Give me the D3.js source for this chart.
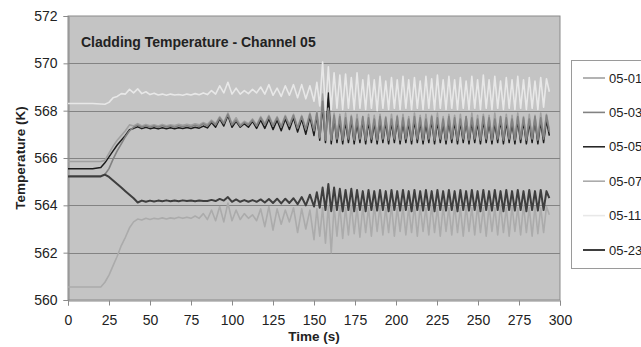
<!DOCTYPE html>
<html><head><meta charset="utf-8">
<script src="https://cdn.jsdelivr.net/npm/d3@7"></script>
<style>
html,body{margin:0;padding:0;background:#fff;}
svg{display:block;font-family:"Liberation Sans",Arial,sans-serif;}
</style></head>
<body><svg id="chart" width="641" height="347"></svg>
<script>
const chartTitle = "Cladding Temperature - Channel 05";
const xTitle = "Time (s)";
const yTitle = "Temperature (K)";
const xTicks = [0,25,50,75,100,125,150,175,200,225,250,275,300];
const yTicks = [560,562,564,566,568,570,572];
const seriesNames = ["05-01","05-03","05-05","05-07","05-11","05-23"];

const times = [
0,5,10,15,
20,22.5,25,27.5,30,32.5,35,37.5,40,42.5,
45,47.5,50,52.5,55,57.5,60,62.5,65,67.5,
70,72.5,75,77.5,80,82.5,85,87.5,90,92.5,
95,97.5,100,102.5,105,107.5,110,112.5,115,117.5,
120,122.5,125,127.5,130,132.5,135,137.5,140,142.5,
145,147.5,150,
151.75,153.5,155.25,157,158.75,160.5,162.25,164,165.75,167.5,
169.25,171,172.75,174.5,176.25,178,179.75,181.5,183.25,185,
186.75,188.5,190.25,192,193.75,195.5,197.25,199,200.75,202.5,
204.25,206,207.75,209.5,211.25,213,214.75,216.5,218.25,220,
221.75,223.5,225.25,227,228.75,230.5,232.25,234,235.75,237.5,
239.25,241,242.75,244.5,246.25,248,249.75,251.5,253.25,255,
256.75,258.5,260.25,262,263.75,265.5,267.25,269,270.75,272.5,
274.25,276,277.75,279.5,281.25,283,284.75,286.5,288.25,290,
291.75,293.5];

const s0501 = [
565.85,565.85,565.85,565.85,
565.85,565.9,566.2,566.5,566.75,566.95,567.15,567.4,567.35,567.45,
567.35,567.42,567.36,567.4,567.35,567.42,567.36,567.4,567.37,567.42,
567.38,567.43,567.38,567.45,567.4,567.5,567.42,567.6,567.45,567.75,
567.5,567.9,567.45,567.7,567.4,567.55,567.45,567.65,567.4,567.75,
567.45,567.8,567.4,567.75,567.35,567.8,567.4,567.85,567.3,567.8,
567.25,567.9,567.2,
567.95,566.9,568.7,566.8,568.1,566.8,567.9,566.85,567.85,566.8,
567.9,566.85,567.8,566.8,567.85,566.85,567.75,566.8,567.85,566.85,
567.8,566.8,567.85,566.85,567.75,566.8,567.85,566.85,567.8,566.8,
567.85,566.85,567.75,566.8,567.9,566.85,567.8,566.8,567.85,566.85,
567.8,566.8,567.9,566.85,567.75,566.8,567.85,566.85,567.8,566.8,
567.85,566.85,567.75,566.8,567.9,566.85,567.8,566.8,567.85,566.85,
567.8,566.8,567.9,566.85,567.75,566.8,567.85,566.85,567.8,566.8,
567.9,566.85,567.75,566.8,567.85,566.85,567.8,566.8,567.9,566.9,
567.85,567.2];

const s0503 = [
565.25,565.25,565.25,565.25,
565.25,565.3,565.55,565.95,566.3,566.6,566.9,567.15,567.3,567.38,
567.3,567.36,567.3,567.35,567.3,567.36,567.31,567.35,567.3,567.36,
567.32,567.36,567.32,567.38,567.33,567.45,567.35,567.55,567.4,567.7,
567.45,567.85,567.4,567.6,567.35,567.5,567.4,567.6,567.35,567.7,
567.4,567.75,567.35,567.7,567.3,567.75,567.35,567.8,567.25,567.75,
567.2,567.85,567.15,
567.9,566.85,568.4,566.75,568.0,566.75,567.8,566.8,567.75,566.75,
567.7,566.8,567.75,566.75,567.65,566.8,567.75,566.75,567.7,566.8,
567.65,566.75,567.75,566.8,567.7,566.75,567.65,566.8,567.75,566.75,
567.7,566.8,567.65,566.75,567.75,566.8,567.7,566.75,567.65,566.8,
567.75,566.75,567.7,566.8,567.65,566.75,567.75,566.8,567.7,566.75,
567.65,566.8,567.75,566.75,567.7,566.8,567.65,566.75,567.75,566.8,
567.7,566.75,567.65,566.8,567.75,566.75,567.7,566.8,567.65,566.75,
567.75,566.8,567.7,566.75,567.65,566.8,567.75,566.75,567.7,566.8,
567.8,567.1];

const s0505 = [
565.55,565.55,565.55,565.55,
565.6,565.8,566.05,566.3,566.55,566.75,566.95,567.2,567.25,567.32,
567.24,567.3,567.24,567.28,567.23,567.28,567.24,567.28,567.24,567.28,
567.25,567.29,567.25,567.3,567.26,567.35,567.27,567.5,567.3,567.65,
567.35,567.8,567.3,567.55,567.3,567.45,567.3,567.55,567.25,567.6,
567.25,567.65,567.2,567.6,567.15,567.65,567.2,567.7,567.1,567.65,
567.0,567.75,566.95,
567.8,566.75,568.2,566.65,568.75,566.6,567.7,566.65,567.6,566.6,
567.55,566.65,567.6,566.6,567.5,566.65,567.6,566.6,567.55,566.65,
567.5,566.6,567.6,566.65,567.55,566.6,567.5,566.65,567.6,566.6,
567.55,566.65,567.5,566.6,567.6,566.65,567.55,566.6,567.5,566.65,
567.6,566.6,567.55,566.65,567.5,566.6,567.6,566.65,567.55,566.6,
567.5,566.65,567.6,566.6,567.55,566.65,567.5,566.6,567.6,566.65,
567.55,566.6,567.5,566.65,567.6,566.6,567.55,566.65,567.5,566.6,
567.6,566.65,567.55,566.6,567.5,566.65,567.6,566.6,567.55,566.65,
567.6,566.95];

const s0507 = [
560.55,560.55,560.55,560.55,
560.55,560.75,561.05,561.45,561.85,562.3,562.65,563.05,563.3,563.42,
563.38,563.45,563.4,563.45,563.42,563.47,563.42,563.47,563.44,563.5,
563.45,563.5,563.45,563.55,563.45,563.65,563.4,563.8,563.35,563.95,
563.3,564.1,563.35,563.8,563.4,563.65,563.45,563.6,563.35,563.85,
563.1,563.95,562.95,563.85,563.2,563.8,563.3,563.9,562.85,563.85,
563.0,563.8,562.55,
563.85,562.7,563.9,562.4,564.0,562.0,563.95,562.7,563.95,562.6,
563.9,562.75,564.0,562.8,563.9,562.65,563.95,562.85,563.9,562.7,
564.0,562.9,563.95,562.75,563.9,562.85,564.0,562.7,563.9,562.9,
563.95,562.75,563.9,562.85,564.0,562.7,563.95,562.9,563.9,562.75,
564.0,562.85,563.9,562.7,563.95,562.9,563.9,562.75,564.0,562.85,
563.9,562.7,563.95,562.9,563.9,562.75,564.0,562.85,563.9,562.7,
563.95,562.9,563.9,562.75,564.0,562.85,563.9,562.7,563.95,562.9,
563.9,562.75,564.0,562.85,563.9,562.7,563.95,562.8,563.9,562.85,
563.95,563.6];

const s0511 = [
568.3,568.3,568.3,568.3,
568.28,568.27,568.35,568.55,568.6,568.72,568.7,568.9,568.75,568.92,
568.72,568.8,568.68,568.74,568.66,568.7,568.65,568.7,568.66,568.68,
568.65,568.7,568.66,568.72,568.67,568.75,568.68,568.85,568.7,569.05,
568.75,569.2,568.7,568.95,568.7,568.85,568.72,568.9,568.75,569.0,
568.7,569.1,568.65,568.95,568.6,569.05,568.65,569.1,568.55,569.1,
568.5,569.05,568.4,
569.2,568.2,570.05,568.0,569.85,568.05,569.6,568.1,569.5,568.05,
569.55,568.1,569.4,568.05,569.6,568.1,569.3,568.05,569.5,568.1,
569.3,568.0,569.45,568.1,569.25,568.05,569.4,568.1,569.3,568.05,
569.45,568.1,569.3,568.05,569.4,568.1,569.25,568.05,569.45,568.1,
569.35,568.05,569.5,568.1,569.3,568.05,569.45,568.1,569.3,568.05,
569.4,568.1,569.25,568.05,569.45,568.1,569.3,568.05,569.5,568.1,
569.3,568.05,569.45,568.1,569.25,568.05,569.4,568.1,569.3,568.05,
569.45,568.1,569.3,568.05,569.4,568.1,569.25,568.05,569.4,568.15,
569.35,568.8];

const s0523 = [
565.22,565.22,565.22,565.22,
565.22,565.3,565.2,565.05,564.9,564.75,564.6,564.45,564.3,564.12,
564.2,564.15,564.2,564.16,564.2,564.17,564.21,564.17,564.2,564.17,
564.21,564.18,564.2,564.17,564.2,564.18,564.18,564.23,564.18,564.27,
564.2,564.35,564.15,564.25,564.15,564.22,564.15,564.22,564.15,564.25,
564.12,564.27,564.1,564.28,564.08,564.28,564.1,564.3,564.05,564.35,
564.0,564.45,563.95,
564.55,563.9,564.75,563.8,564.9,563.75,564.75,563.8,564.7,563.75,
564.65,563.8,564.7,563.75,564.65,563.8,564.6,563.75,564.65,563.8,
564.6,563.78,564.65,563.8,564.6,563.75,564.65,563.8,564.6,563.78,
564.65,563.8,564.6,563.75,564.65,563.8,564.6,563.78,564.65,563.8,
564.6,563.75,564.65,563.8,564.6,563.78,564.65,563.8,564.6,563.75,
564.65,563.8,564.6,563.78,564.65,563.8,564.6,563.75,564.65,563.8,
564.6,563.78,564.65,563.8,564.6,563.75,564.65,563.8,564.6,563.78,
564.65,563.8,564.6,563.75,564.65,563.8,564.6,563.78,564.65,563.8,
564.6,564.3];

const seriesValues = [s0501, s0503, s0505, s0507, s0511, s0523];
const seriesColors = ["#a0a0a0","#828282","#1c1c1c","#ababab","#e8e8e8","#3e3e3e"];
const seriesWidths = [1.6,1.6,1.5,1.6,1.6,2];
const drawOrder = [2,0,1,3,4,5];

const svg = d3.select("#chart");
const m = {l:68, r:560, t:16, b:300};
const x = d3.scaleLinear().domain([0,300]).range([m.l, m.r]);
const y = d3.scaleLinear().domain([560,572]).range([m.b, m.t]);

// plot background
svg.append("rect").attr("x", m.l).attr("y", m.t).attr("width", m.r-m.l).attr("height", m.b-m.t)
  .attr("fill", "#c4c4c4").attr("stroke", "#8a8a8a").attr("stroke-width", 1);

// gridlines
svg.append("g").selectAll("line").data(yTicks.filter(v => v>560 && v<572)).join("line")
  .attr("x1", m.l).attr("x2", m.r)
  .attr("y1", d => Math.round(y(d))+0.5).attr("y2", d => Math.round(y(d))+0.5)
  .attr("stroke", "#838383").attr("stroke-width", 1);

// axes
const yAxis = d3.axisLeft(y).tickValues(yTicks).tickSize(5).tickPadding(6).tickFormat(d3.format("d"));
const gy = svg.append("g").attr("transform", `translate(${m.l+0.5},0)`).call(yAxis);
const xAxis = d3.axisBottom(x).tickValues(xTicks).tickSize(5).tickPadding(10).tickFormat(d3.format("d"));
const gx = svg.append("g").attr("transform", `translate(0,${m.b+0.5})`).call(xAxis);
[gx, gy].forEach(g => {
  g.select(".domain").attr("stroke", "#8a8a8a");
  g.selectAll(".tick line").attr("stroke", "#8a8a8a");
  g.selectAll(".tick text").attr("fill", "#222").style("font-size", "14px")
    .style("font-family", "'Liberation Sans', Arial, sans-serif");
});

// lines
const line = d3.line().x((d,i) => x(times[i])).y(d => y(d));
drawOrder.forEach(k => {
  svg.append("path").datum(seriesValues[k]).attr("d", line)
    .attr("fill", "none").attr("stroke", seriesColors[k])
    .attr("stroke-width", seriesWidths[k]).attr("stroke-linejoin", "round");
});

// chart title
svg.append("text").attr("x", 81).attr("y", 47).text(chartTitle)
  .style("font-size", "14px").style("font-weight", "bold").attr("fill", "#222");

// axis titles
svg.append("text").attr("x", (m.l+m.r)/2).attr("y", 341).attr("text-anchor", "middle")
  .text(xTitle).style("font-size", "13.5px").style("font-weight", "bold").attr("fill", "#222");
svg.append("text").attr("transform", `translate(25,${(m.t+m.b)/2}) rotate(-90)`)
  .attr("text-anchor", "middle").text(yTitle)
  .style("font-size", "13.5px").style("font-weight", "bold").attr("fill", "#222");

// legend
const lg = svg.append("g");
lg.append("rect").attr("x", 571.5).attr("y", 60.5).attr("width", 80).attr("height", 208)
  .attr("fill", "#fff").attr("stroke", "#9a9a9a");
seriesNames.forEach((name, k) => {
  const yy = 78 + k*34.4;
  lg.append("line").attr("x1", 583).attr("x2", 605).attr("y1", yy).attr("y2", yy)
    .attr("stroke", seriesColors[k]).attr("stroke-width", seriesWidths[k]);
  lg.append("text").attr("x", 609).attr("y", yy+4.5).text(name)
    .style("font-size", "13px").attr("fill", "#222");
});
</script>
</body></html>
